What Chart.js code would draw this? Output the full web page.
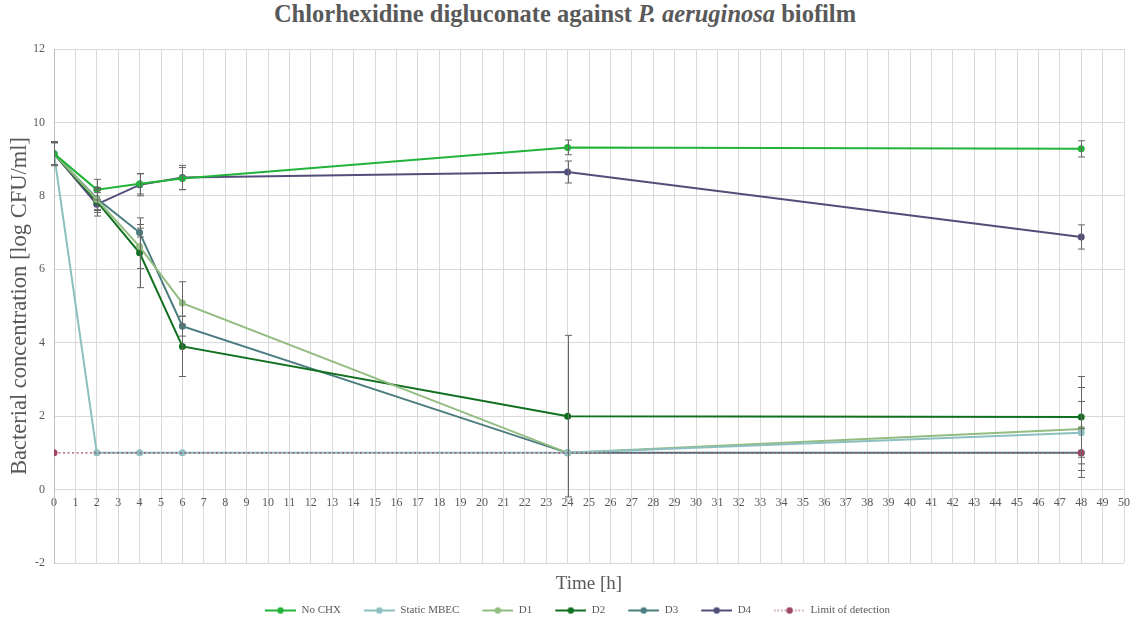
<!DOCTYPE html>
<html>
<head>
<meta charset="utf-8">
<script src="https://cdn.jsdelivr.net/npm/chart.js@4.4.1/dist/chart.umd.min.js"></script>
<style>
  html, body { margin: 0; padding: 0; background: #fff; overflow: hidden; }
  #titulo {
    height: 38px; line-height: 46px; text-align: center; overflow: visible;
    font: bold 24.5px "Liberation Serif", "Times New Roman", serif; color: #595959;
  }
  #wrap { position: relative; width: 1130px; height: 588px; }
</style>
</head>
<body>
<div id="titulo">Chlorhexidine digluconate against <i>P. aeruginosa</i> biofilm</div>
<div id="wrap"><canvas id="grafico"></canvas></div>
<script>
// tempos de amostragem [h]
const tempos = [0, 2, 4, 6, 24, 48];

// médias [log CFU/ml]
const noChx      = [9.15, 8.17, 8.33, 8.47, 9.32, 9.28];
const staticMbec = [9.15, 1.00, 1.00, 1.00, 1.00, 1.55];
const d1         = [9.15, 7.90, 6.62, 5.08, 1.00, 1.65];
const d2         = [9.15, 7.85, 6.45, 3.90, 2.00, 1.98];
const d3         = [9.15, 7.93, 7.00, 4.45, 1.00, 1.00];
const d4         = [9.15, 7.77, 8.30, 8.50, 8.65, 6.88];
const limiteTempos = [0, 48];
const limite       = [1.00, 1.00];

// desvios (barras de erro)
const noChxSd      = [0.30, 0.28, 0.28, 0.30, 0.20, 0.22];
const staticMbecSd = [0.30, 0, 0, 0, 0, 0.85];
const d1Sd         = [0.30, 0.30, 0.60, 0.58, 0, 1.13];
const d2Sd         = [0.30, 0.30, 0.95, 0.82, 2.20, 1.10];
const d3Sd         = [0.30, 0.30, 0.12, 0.27, 0, 0.67];
const d4Sd         = [0.33, 0.32, 0.30, 0.33, 0.30, 0.33];

const corTexto = '#595959', corGrid = '#d9d9d9';
const fonte = '"Liberation Serif", "Times New Roman", serif';

const pontos = (xs, ys) => xs.map((x, i) => ({x: x, y: ys[i]}));

function serie(label, cor, ys, sd, extra) {
    return Object.assign({
        label: label,
        data: pontos(tempos, ys),
        sd: sd,
        borderColor: cor,
        backgroundColor: cor,
        borderWidth: 2,
        pointRadius: 3.5,
        pointHoverRadius: 3.5,
        pointBorderWidth: 0,
        tension: 0
    }, extra || {});
}

// ícone da legenda: espaço à esquerda + linha com marcador no meio
function iconeLegenda(cor, pontilhado) {
    const c = document.createElement('canvas');
    c.width = 44; c.height = 10;
    const g = c.getContext('2d');
    g.strokeStyle = cor;
    g.lineWidth = pontilhado ? 1.2 : 2;
    if (pontilhado) g.setLineDash([1.5, 2]);
    g.beginPath(); g.moveTo(13, 5); g.lineTo(44, 5); g.stroke();
    g.fillStyle = cor;
    g.beginPath(); g.arc(28.5, 5, 3.2, 0, Math.PI * 2); g.fill();
    return c;
}

// desenha as barras de erro a partir das escalas
const barrasErro = {
    id: 'barrasErro',
    afterLayout(chart) {
        // desloca a legenda um pouco para a direita, como no original
        chart.legend.left += 9;
        chart.legend.right += 9;
    },
    afterDatasetsDraw(chart) {
        const ctx = chart.ctx, xs = chart.scales.x, ys = chart.scales.y;
        ctx.save();
        ctx.strokeStyle = '#666666';
        ctx.lineWidth = 1;
        chart.data.datasets.forEach(ds => {
            if (!ds.sd) return;
            ds.data.forEach((p, i) => {
                const s = ds.sd[i];
                if (!s) return;
                const x = Math.round(xs.getPixelForValue(p.x)) + 0.5;
                const yTop = ys.getPixelForValue(p.y + s);
                const yBot = ys.getPixelForValue(p.y - s);
                ctx.beginPath();
                ctx.moveTo(x, yTop); ctx.lineTo(x, yBot);
                ctx.moveTo(x - 3.5, yTop); ctx.lineTo(x + 3.5, yTop);
                ctx.moveTo(x - 3.5, yBot); ctx.lineTo(x + 3.5, yBot);
                ctx.stroke();
            });
        });
        ctx.restore();
    }
};

new Chart('grafico', {
    type: 'line',
    data: {
        datasets: [
            serie('No CHX', '#22b33a', noChx, noChxSd),
            serie('Static MBEC', '#8dbfc0', staticMbec, staticMbecSd),
            serie('D1', '#92bc80', d1, d1Sd),
            serie('D2', '#11701f', d2, d2Sd),
            serie('D3', '#4b7c80', d3, d3Sd),
            serie('D4', '#524e7a', d4, d4Sd),
            {
                label: 'Limit of detection',
                data: pontos(limiteTempos, limite),
                borderColor: '#9e4662',
                backgroundColor: '#9e4662',
                borderWidth: 1.3,
                borderDash: [2, 2.5],
                pointRadius: 3.5,
                pointBorderWidth: 0,
                tension: 0,
                order: -1
            }
        ]
    },
    options: {
        responsive: true,
        maintainAspectRatio: false,
        animation: false,
        layout: {padding: {top: 11, right: 6, left: 0, bottom: 0}},
        plugins: {
            tooltip: {enabled: false},
            legend: {
                position: 'bottom',
                labels: {
                    usePointStyle: true,
                    pointStyleWidth: 44,
                    boxHeight: 10,
                    padding: 10,
                    color: corTexto,
                    font: {family: fonte, size: 11},
                    generateLabels: (chart) => chart.data.datasets.map((ds, i) => ({
                        text: ds.label,
                        fillStyle: ds.borderColor,
                        strokeStyle: ds.borderColor,
                        lineWidth: 0,
                        pointStyle: iconeLegenda(ds.borderColor, !!ds.borderDash),
                        fontColor: corTexto,
                        hidden: !chart.isDatasetVisible(i),
                        datasetIndex: i
                    }))
                }
            }
        },
        scales: {
            x: {
                type: 'linear',
                position: {y: 0},
                min: 0, max: 50,
                ticks: {stepSize: 1, color: corTexto, font: {family: fonte, size: 12}, padding: 6},
                grid: {color: corGrid, drawTicks: false},
                border: {color: corGrid},
                afterFit: (s) => { s.paddingLeft = 0; s.paddingRight = 0; }
            },
            x2: {
                type: 'linear',
                position: 'bottom',
                grid: {display: false},
                ticks: {display: false},
                border: {display: false},
                title: {display: true, text: 'Time [h]', color: corTexto, font: {family: fonte, size: 19}, padding: {top: 0, bottom: 0}},
                afterFit: (s) => { s.height = 32; }
            },
            y: {
                min: -2, max: 12,
                ticks: {stepSize: 2, color: corTexto, font: {family: fonte, size: 12}, padding: 9},
                grid: {color: corGrid, drawTicks: false},
                border: {color: '#bfbfbf'},
                title: {display: true, text: 'Bacterial concentration [log CFU/ml]', color: corTexto, font: {family: fonte, size: 22.5}, padding: {top: 7, bottom: 4}},
                afterFit: (s) => { s.width = 54; s.paddingTop = 0; s.paddingBottom = 0; }
            }
        }
    },
    plugins: [barrasErro]
});
</script>
</body>
</html>
